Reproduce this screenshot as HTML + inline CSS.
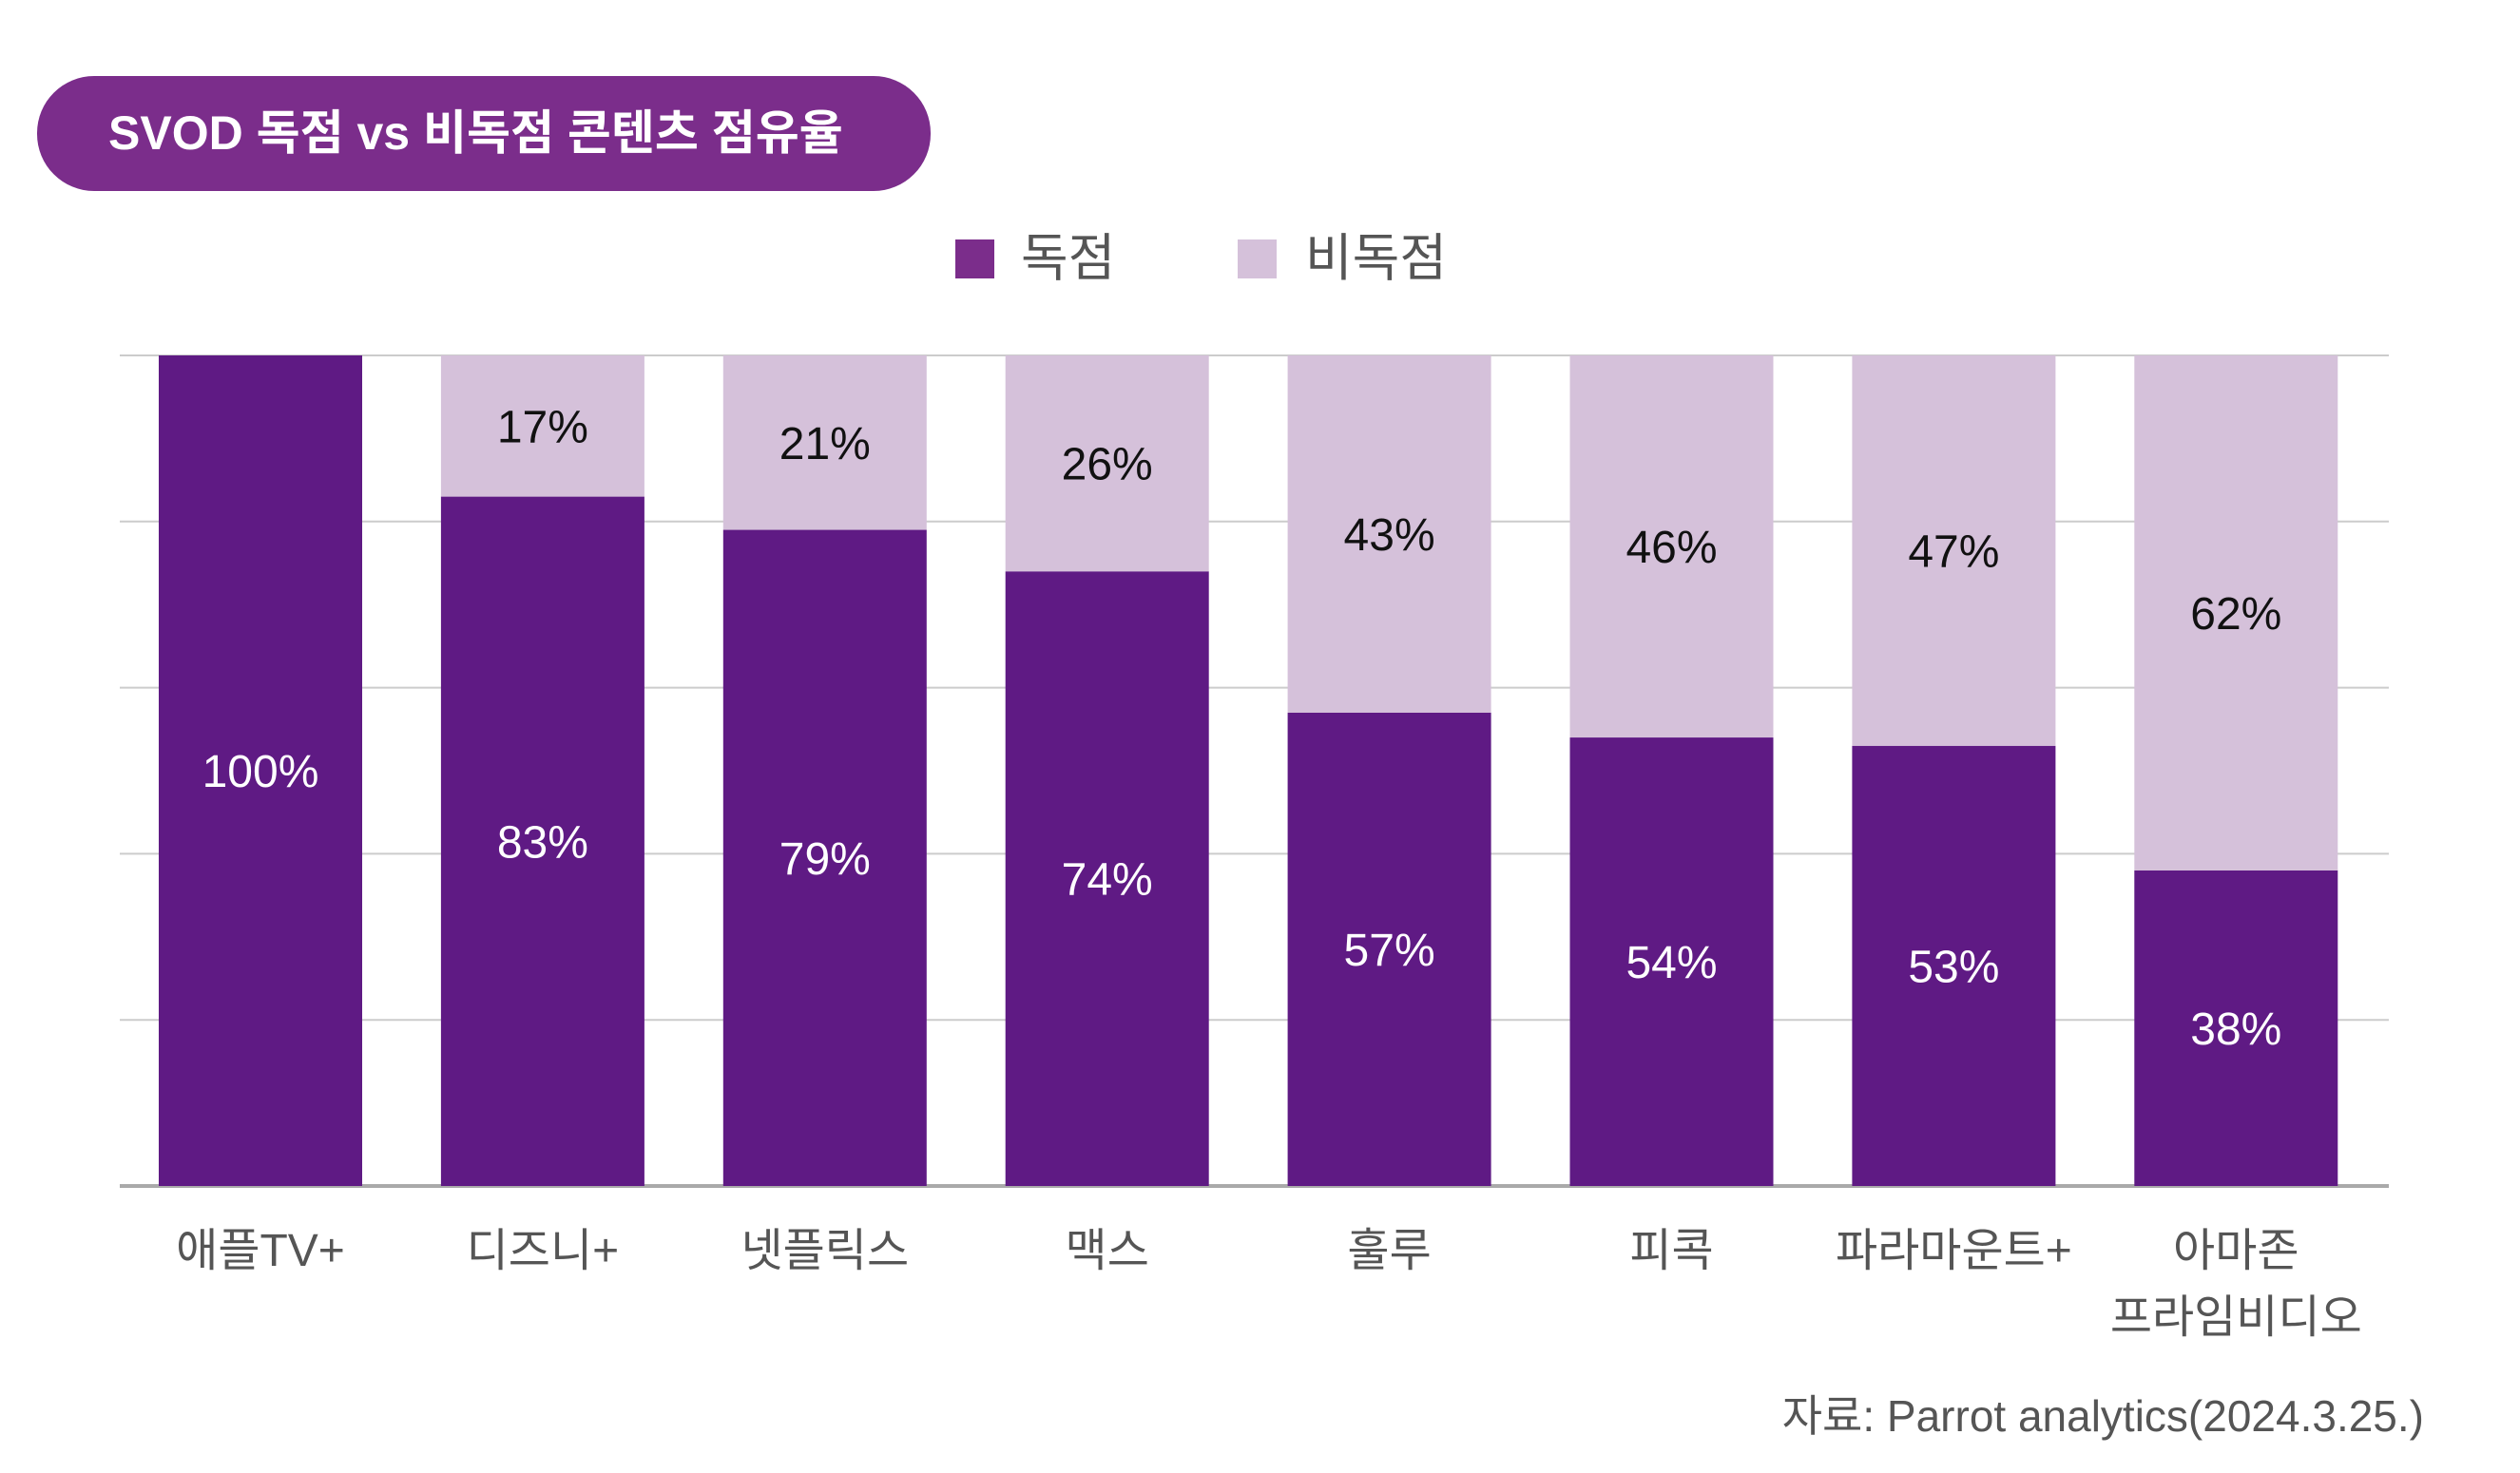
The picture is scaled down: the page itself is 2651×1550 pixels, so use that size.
<!DOCTYPE html>
<html><head><meta charset="utf-8">
<style>
html,body{margin:0;padding:0;background:#fff;}
body{width:2651px;height:1550px;overflow:hidden;position:relative;font-family:"Liberation Sans","Noto Sans CJK KR",sans-serif;}
#pill{position:absolute;left:39px;top:80px;width:940px;height:121px;border-radius:60px;background:#7b2d8b;color:#fff;font-weight:bold;font-size:50px;line-height:121px;box-sizing:border-box;padding-left:75px;}
.leg{position:absolute;top:252px;width:41px;height:41px;}
.legt{position:absolute;top:240px;font-size:54px;color:#555;line-height:64px;}
#src{position:absolute;right:101px;top:1454px;font-size:46px;color:#555;}
</style></head><body>
<div id="pill">SVOD 독점 vs 비독점 콘텐츠 점유율</div>
<div class="leg" style="left:1005px;background:#7b2d8b"></div>
<div class="legt" style="left:1074px">독점</div>
<div class="leg" style="left:1302px;background:#d5c1da"></div>
<div class="legt" style="left:1373px">비독점</div>
<svg id="chart" width="2651" height="1550" style="position:absolute;left:0;top:0"></svg>
<div id="src">자료: Parrot analytics(2024.3.25.)</div>
<script>
const cats = [["애플TV+"],["디즈니+"],["넷플릭스"],["맥스"],["훌루"],["피콕"],["파라마운트+"],["아마존","프라임비디오"]];
const exclusive = [100,83,79,74,57,54,53,38];
const nonExclusive = [0,17,21,26,43,46,47,62];
const gridTicks = [0,20,40,60,80,100];

const NS="http://www.w3.org/2000/svg";
const svg=document.getElementById('chart');
const top0=374, base=1248, x0=126, x1=2513, firstLeft=167, pitch=296.9, bw=214;
const y=v=>base-(base-top0)*v/100;
const xL=i=>firstLeft+pitch*i;
function mk(t,a){const e=document.createElementNS(NS,t);for(const k in a)e.setAttribute(k,a[k]);svg.appendChild(e);return e;}
gridTicks.forEach(t=>{
  const l=mk('line',{x1:x0,x2:x1,y1:y(t),y2:y(t),stroke:t===0?'#aaa':'#ccc','stroke-width':t===0?4:2});
  
  
});
cats.forEach((c,i)=>{
  const e=exclusive[i], n=nonExclusive[i];
  const r1=mk('rect',{x:xL(i),y:y(e),width:bw,height:y(0)-y(e),fill:'#5f1a84'});
  
  
  if(n>0){
    const r2=mk('rect',{x:xL(i),y:y(e+n),width:bw,height:y(e)-y(e+n),fill:'#d5c1da'});
    
    
    const t2=mk('text',{x:xL(i)+bw/2,y:(y(e)+y(e+n))/2+17,'text-anchor':'middle','font-size':48,fill:'#111','font-family':'Liberation Sans, sans-serif'});
    t2.textContent=n+'%';
    
    
  }
  const t1=mk('text',{x:xL(i)+bw/2,y:(y(0)+y(e))/2+17,'text-anchor':'middle','font-size':48,fill:'#fff','font-family':'Liberation Sans, sans-serif'});
  t1.textContent=e+'%';
  
  
  c.forEach((line,j)=>{
    const tl=mk('text',{x:xL(i)+bw/2,y:1332+j*70,'text-anchor':'middle','font-size':48,fill:'#555','font-family':'Liberation Sans, Noto Sans CJK KR, sans-serif'});
    tl.textContent=line;
    
    
  });
});
</script>
</body></html>
